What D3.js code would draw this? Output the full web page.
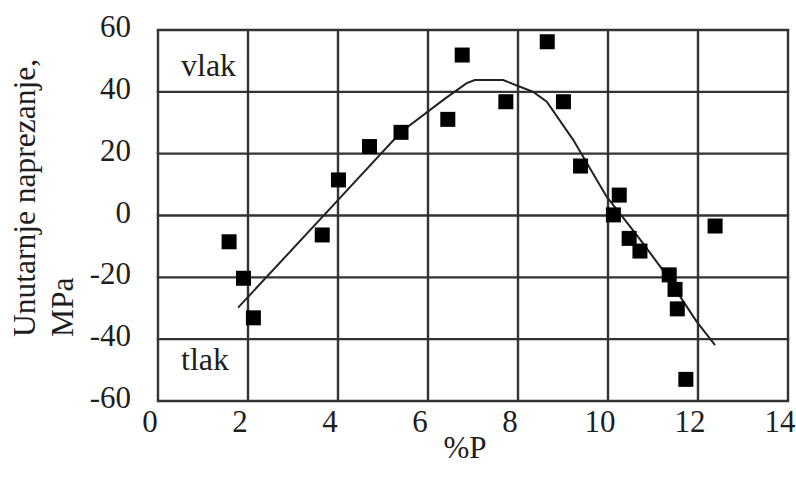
<!DOCTYPE html>
<html><head><meta charset="utf-8">
<script src="https://cdn.jsdelivr.net/npm/d3@7"></script>
<style>html,body{margin:0;padding:0;background:#fff;}svg{display:block;}</style>
</head><body>
<script>
const xTicks = [0, 2, 4, 6, 8, 10, 12, 14];
const yTicks = [-60, -40, -20, 0, 20, 40, 60];
const pointsX = [1.58, 1.90, 2.12, 3.65, 4.01, 4.70, 5.40, 6.44, 6.76, 7.73, 8.65, 9.01, 9.39, 10.12, 10.25, 10.47, 10.71, 11.36, 11.49, 11.54, 11.73, 12.38];
const pointsY = [-8.5, -20.3, -33.1, -6.3, 11.5, 22.3, 26.9, 31.1, 51.9, 36.8, 56.2, 36.8, 16.0, 0.2, 6.6, -7.4, -11.5, -19.2, -23.9, -30.2, -53.0, -3.4];
const trendX = [1.78, 4.04, 5.40, 6.34, 6.86, 7.04, 7.67, 8.00, 8.34, 8.64, 9.23, 9.97, 10.67, 11.19, 11.97, 12.38];
const trendY = [-29.8, 5.6, 27.0, 37.4, 42.8, 43.8, 43.8, 41.9, 40.0, 36.8, 24.4, 6.1, -6.9, -17.1, -34.3, -41.9];
const xTitle = "%P";
const yTitle1 = "Unutarnje naprezanje,";
const yTitle2 = "MPa";
const zoneTop = "vlak";
const zoneBottom = "tlak";

const W = 796, H = 477;
const svg = d3.select("body").append("svg").attr("width", W).attr("height", H);
const x = d3.scaleLinear().domain([0, 14]).range([158, 788]);
const y = d3.scaleLinear().domain([-60, 60]).range([401, 30]);
const ink = "#1e1e1e";
const font = "'Liberation Serif', 'Times New Roman', serif";
const fs = 31;

// grid
const g = svg.append("g");
g.selectAll("line.v").data(xTicks).enter().append("line")
  .attr("x1", d => x(d)).attr("x2", d => x(d)).attr("y1", y(60)).attr("y2", y(-60))
  .attr("stroke", "#333").attr("stroke-width", 2.4);
g.selectAll("line.h").data(yTicks).enter().append("line")
  .attr("x1", x(0) - 1.2).attr("x2", x(14) + 1.2).attr("y1", d => y(d)).attr("y2", d => y(d))
  .attr("stroke", "#333").attr("stroke-width", 2.4);

// tick labels
svg.append("g").selectAll("text").data(yTicks).enter().append("text")
  .attr("x", 131).attr("y", d => y(d) + 7)
  .attr("text-anchor", "end").attr("font-family", font).attr("font-size", fs).attr("fill", ink)
  .text(d => d);
svg.append("g").selectAll("text").data(xTicks).enter().append("text")
  .attr("x", d => x(d) - 8).attr("y", 432)
  .attr("text-anchor", "middle").attr("font-family", font).attr("font-size", fs).attr("fill", ink)
  .text(d => d);

// titles
svg.append("text").attr("x", 465).attr("y", 458).attr("text-anchor", "middle")
  .attr("font-family", font).attr("font-size", fs).attr("fill", ink).text(xTitle);
svg.append("text").attr("transform", "translate(35,337) rotate(-90)")
  .attr("font-family", font).attr("font-size", 31.5).attr("fill", ink).text(yTitle1);
svg.append("text").attr("transform", "translate(73,337) rotate(-90)")
  .attr("font-family", font).attr("font-size", 31.5).attr("fill", ink).text(yTitle2);
svg.append("text").attr("x", 181).attr("y", 76)
  .attr("font-family", font).attr("font-size", 32).attr("fill", ink).text(zoneTop);
svg.append("text").attr("x", 181).attr("y", 370)
  .attr("font-family", font).attr("font-size", 32).attr("fill", ink).text(zoneBottom);

// trend line
const trend = trendX.map((v, i) => [v, trendY[i]]);
svg.append("path").datum(trend)
  .attr("d", d3.line().x(d => x(d[0])).y(d => y(d[1])))
  .attr("fill", "none").attr("stroke", "#222").attr("stroke-width", 2);

// points
const pts = pointsX.map((v, i) => [v, pointsY[i]]);
const s = 15;
svg.append("g").selectAll("rect").data(pts).enter().append("rect")
  .attr("x", d => x(d[0]) - s / 2).attr("y", d => y(d[1]) - s / 2)
  .attr("width", s).attr("height", s).attr("fill", "#000");
</script>
</body></html>
